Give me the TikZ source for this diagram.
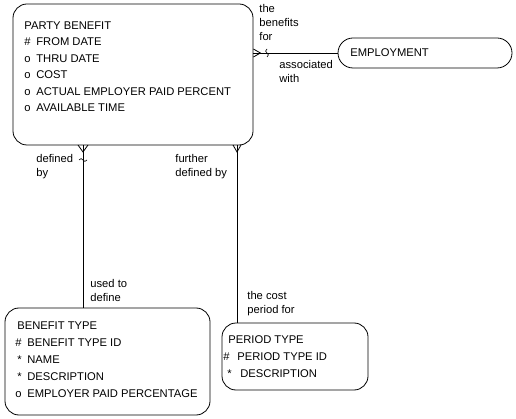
\documentclass[tikz,border=0pt]{standalone}
\usepackage{fontspec}
\setmainfont{Liberation Sans}

\begin{document}
\begin{tikzpicture}[x=1pt, y=-1pt, line width=0.8pt,
	entity/.style={draw, rounded corners=14pt, inner sep=0pt},
	attrs/.style={anchor=north west, inner sep=0pt, align=left, font=\fontsize{11.2}{16.5}\selectfont},
	role/.style={anchor=west, inner sep=0pt, align=left, font=\fontsize{11.2}{14}\selectfont}]
	\useasboundingbox (0,0) rectangle (516,419); % Explicit bounding box
	% entities
	\node [entity, minimum width=240pt, minimum height=141pt] (partybenefit) at (133,74.5) {};
	\node [entity, minimum width=205pt, minimum height=107pt] (benefittype) at (107.5,361.5) {};
	\node [entity, minimum width=146pt, minimum height=67pt] (periodtype) at (295,356.5) {};
	\node [entity, rounded corners=15pt, minimum width=174pt, minimum height=30pt] (employment) at (425,53) {};
	\node [attrs] (partybenefittext) at (24,21) {PARTY BENEFIT\\
		\makebox[12pt][l]{\#}FROM DATE\\
		\makebox[12pt][l]{o}THRU DATE\\
		\makebox[12pt][l]{o}COST\\
		\makebox[12pt][l]{o}ACTUAL EMPLOYER PAID PERCENT\\
		\makebox[12pt][l]{o}AVAILABLE TIME};
	\node [attrs, font=\fontsize{11.2}{17}\selectfont] (benefittypetext) at (15,321) {\hspace*{2pt}BENEFIT TYPE\\
		\makebox[12pt][l]{\#}BENEFIT TYPE ID\\
		\makebox[12pt][l]{\,*}NAME\\
		\makebox[12pt][l]{\,*}DESCRIPTION\\
		\makebox[12pt][l]{o}EMPLOYER PAID PERCENTAGE};
	\node [attrs, font=\fontsize{11.2}{17}\selectfont] (periodtypetext) at (223,335) {\hspace*{5pt}PERIOD TYPE\\
		\makebox[14pt][l]{\#}PERIOD TYPE ID\\
		\hspace*{4pt}\makebox[13pt][l]{*}DESCRIPTION};
	\node [role] (employmenttext) at (350,53) {EMPLOYMENT};
	% party benefit -- employment
	\coordinate (pbe) at (partybenefit.east |- employment.west);
	\draw (pbe) -- (employment.west);
	\draw ([yshift=4pt]pbe) -- ([xshift=7pt]pbe) -- ([yshift=-4pt]pbe);
	\draw [line width=0.6pt] (267,49) .. controls (262,52) and (272,54) .. (267,57);
	\node [role] (thebenefitsfor) at (259,23) {the\\benefits\\for};
	\node [role] (associatedwith) at (279,71) {associated\\with};
	% party benefit -- benefit type
	\coordinate (pbb) at (83,145);
	\draw (pbb) -- (pbb |- benefittype.north);
	\draw ([xshift=-5pt]pbb) -- ([yshift=-7pt]pbb) -- ([xshift=5pt]pbb);
	\draw [line width=0.6pt] (79,160) .. controls (82,155) and (84,165) .. (87,160);
	\node [role] (definedby) at (36,167) {defined\\by};
	\node [role] (usedtodefine) at (90,290) {used to\\define};
	% party benefit -- period type
	\coordinate (pbp) at (237,145);
	\draw (pbp) -- (pbp |- periodtype.north);
	\draw ([xshift=-4pt]pbp) -- ([yshift=-7pt]pbp) -- ([xshift=4pt]pbp);
	\node [role] (furtherdefinedby) at (175,167) {further\\defined by};
	\node [role] (thecostperiodfor) at (247,304) {the cost\\period for};
\end{tikzpicture}
\end{document}
